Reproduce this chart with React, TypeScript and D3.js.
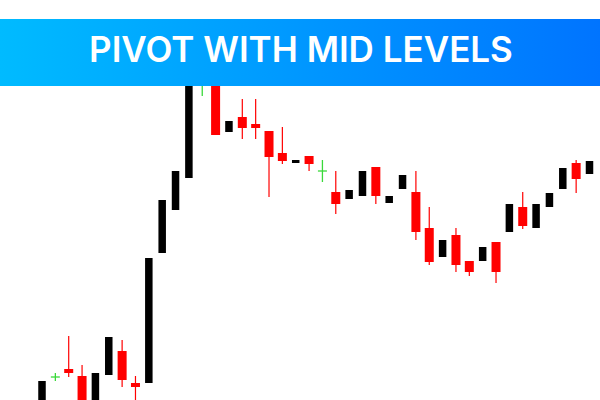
import * as d3 from 'd3';

// candle prices (points), one entry per bar, left to right
const opens = [-5, 23, 31, 24, -5, 25, 49, 17, 17, 147, 190, 222, 325, 330, 268, 283, 276, 269, 247, 237, 244, 229, 208, 201, 204, 233, 197, 211, 208, 172, 143, 165, 139, 139, 158, 168, 193, 172, 193, 211, 237, 226];
const highs = [19, 27, 64, 35, 27, 63, 60, 24, 142, 200, 229, 345, 340, 335, 279, 301, 301, 269, 273, 240, 244, 240, 229, 210, 229, 233, 204, 225, 229, 193, 160, 172, 139, 153, 158, 196, 208, 196, 207, 232, 240, 239];
const lows = [-5, 19, 23, -5, -5, 25, 13, 0, 17, 147, 190, 222, 304, 265, 268, 261, 261, 203, 236, 237, 229, 218, 186, 201, 204, 196, 197, 211, 160, 135, 143, 128, 124, 139, 117, 168, 171, 172, 193, 211, 207, 226];
const closes = [19, 23, 27, -5, 27, 63, 20, 13, 142, 200, 229, 340, 325, 265, 279, 272, 272, 243, 239, 240, 236, 229, 196, 210, 229, 204, 204, 225, 168, 138, 160, 135, 128, 153, 128, 196, 174, 196, 207, 232, 221, 239];

const title = 'PIVOT WITH MID LEVELS';

const W = 600;
const H = 400;

export default function App() {
  const x = d3.scaleLinear().domain([0, opens.length - 1]).range([42, 589.5]);
  const y = d3.scaleLinear().domain([0, 320]).range([400, 80]);
  const bodyW = 8;

  const candles = opens.map((o, i) => ({ o, h: highs[i], l: lows[i], c: closes[i], i }));

  return (
    <svg
      width={W}
      height={H}
      style={{ position: 'absolute', left: 0, top: 0, background: '#fff' }}
    >
      <defs>
        <linearGradient id="banner" x1="0" y1="0" x2="1" y2="0">
          <stop offset="0%" stopColor="#00bbff" />
          <stop offset="100%" stopColor="#0074ff" />
        </linearGradient>
      </defs>

      {candles.map(d => {
        const cx = x(d.i);
        if (d.o === d.c) {
          // doji drawn as a green cross
          return (
            <g key={d.i} stroke="#3ad83a" strokeWidth={1.3}>
              <line x1={cx} x2={cx} y1={y(d.h)} y2={y(d.l)} />
              <line x1={cx - 4.5} x2={cx + 4.5} y1={y(d.o)} y2={y(d.o)} />
            </g>
          );
        }
        const up = d.c > d.o;
        const col = up ? '#000000' : '#ff0000';
        const top = y(Math.max(d.o, d.c));
        const bot = y(Math.min(d.o, d.c));
        const w = up ? bodyW - 0.5 : bodyW + 1;
        return (
          <g key={d.i}>
            <line x1={cx} x2={cx} y1={y(d.h)} y2={y(d.l)} stroke={col} strokeWidth={1.2} />
            <rect x={cx - w / 2} y={top} width={w} height={Math.max(bot - top, 2.5)} fill={col} />
          </g>
        );
      })}

      <rect x={0} y={19} width={W} height={67} fill="url(#banner)" />
      <text
        x={301}
        y={62}
        textAnchor="middle"
        fill="#ffffff"
        fontFamily="Inter, 'Open Sans', sans-serif"
        fontWeight={600}
        fontSize={35}
      >
        {title}
      </text>
    </svg>
  );
}
